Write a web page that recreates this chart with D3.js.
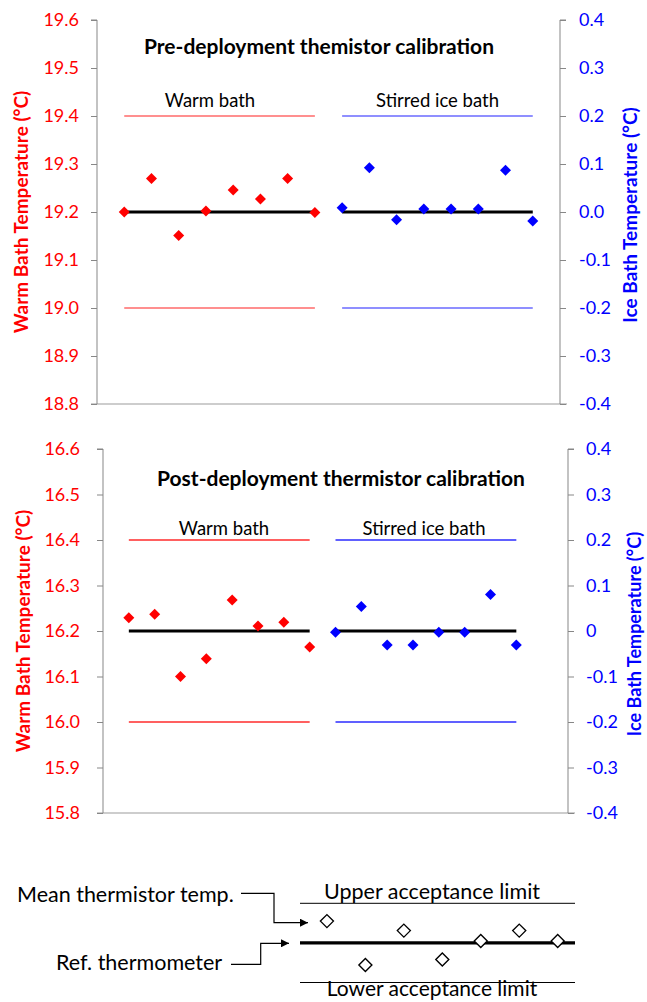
<!DOCTYPE html>
<html>
<head>
<meta charset="utf-8">
<script src="https://cdn.jsdelivr.net/npm/d3@7"></script>
<style>
  html, body { margin: 0; padding: 0; background: #fff; }
  svg { display: block; font-family: Lato, "Open Sans", sans-serif; }
</style>
</head>
<body>
<svg id="chart" width="647" height="1002"></svg>
<script>
// ---------------- DATA ----------------
const warmCategories = [1, 2, 3, 4, 5, 6, 7, 8];
const iceCategories = [9, 10, 11, 12, 13, 14, 15, 16];

const preWarmValues = [19.200, 19.270, 19.151, 19.202, 19.246, 19.227, 19.270, 19.199];
const preIceValues = [0.009, 0.092, -0.016, 0.006, 0.006, 0.006, 0.087, -0.019];
const postWarmValues = [16.229, 16.237, 16.100, 16.139, 16.268, 16.211, 16.219, 16.165];
const postIceValues = [-0.003, 0.054, -0.031, -0.031, -0.003, -0.003, 0.080, -0.031];

const preWarmRef = 19.2;
const preWarmLimits = [19.0, 19.4];
const postWarmRef = 16.2;
const postWarmLimits = [16.0, 16.4];
const iceRef = 0;
const iceLimits = [-0.2, 0.2];

const preWarmTicks = [18.8, 18.9, 19.0, 19.1, 19.2, 19.3, 19.4, 19.5, 19.6];
const postWarmTicks = [15.8, 15.9, 16.0, 16.1, 16.2, 16.3, 16.4, 16.5, 16.6];
const iceTicks = [-0.4, -0.3, -0.2, -0.1, 0, 0.1, 0.2, 0.3, 0.4];
const preIceTickLabels = ["-0.4", "-0.3", "-0.2", "-0.1", "0.0", "0.1", "0.2", "0.3", "0.4"];
const postIceTickLabels = ["-0.4", "-0.3", "-0.2", "-0.1", "0", "0.1", "0.2", "0.3", "0.4"];

const titles = ["Pre-deployment themistor calibration", "Post-deployment thermistor calibration"];
const seriesLabels = ["Warm bath", "Stirred ice bath"];
const leftAxisTitles = ["Warm Bath Temperature  (°C)", "Warm Bath Temperature (°C)"];
const rightAxisTitle = "Ice Bath Temperature (°C)";

// schematic legend
const legendIndex = [1, 2, 3, 4, 5, 6, 7];
const legendValues = [0.55, -0.56, 0.31, -0.42, 0.05, 0.31, 0.05];
const legendLabels = ["Mean thermistor temp.", "Ref. thermometer", "Upper acceptance limit", "Lower acceptance limit"];

// ---------------- DRAW ----------------
const svg = d3.select("#chart");
const RED = "#ff0000", BLUE = "#0000ff", AXIS = "#878787";

function diamond(g, cx, cy, half, fill, stroke) {
  const p = d3.path();
  p.moveTo(cx, cy - half); p.lineTo(cx + half, cy); p.lineTo(cx, cy + half); p.lineTo(cx - half, cy); p.closePath();
  g.append("path").attr("d", p.toString()).attr("fill", fill).attr("stroke", stroke || "none").attr("stroke-width", 1.4);
}

function panel(cfg) {
  const g = svg.append("g");
  const x = d3.scaleLinear().domain([0, cfg.slots]).range([cfg.left, cfg.right]);
  const yW = d3.scaleLinear().domain([cfg.warmTicks[0], cfg.warmTicks[cfg.warmTicks.length - 1]]).range([cfg.bottom, cfg.top]);
  const yI = d3.scaleLinear().domain([iceTicks[0], iceTicks[iceTicks.length - 1]]).range([cfg.bottom, cfg.top]);

  // baseline
  g.append("line").attr("x1", cfg.left - 6).attr("x2", cfg.right + 7)
    .attr("y1", cfg.bottom).attr("y2", cfg.bottom)
    .attr("stroke", "#bdbdbd").attr("stroke-width", 1.6);

  // left axis
  const la = g.append("g").attr("transform", `translate(${cfg.left},0)`)
    .call(d3.axisLeft(yW).tickValues(cfg.warmTicks).tickFormat(d3.format(".1f")).tickSize(6).tickPadding(cfg.leftPad));
  la.select(".domain").attr("stroke", AXIS).attr("d", `M-6,${cfg.top}H0V${cfg.bottom}`);
  la.selectAll(".tick line").attr("stroke", AXIS);
  la.selectAll(".tick text").attr("fill", RED).style("font-size", "18px").style("font-family", "Lato");

  // right axis
  const ra = g.append("g").attr("transform", `translate(${cfg.right},0)`)
    .call(d3.axisRight(yI).tickValues(iceTicks).tickFormat((d, i) => cfg.iceLabels[i]).tickSize(6).tickPadding(cfg.rightPad));
  ra.select(".domain").attr("stroke", AXIS).attr("d", `M6,${cfg.top}H0V${cfg.bottom}`);
  ra.selectAll(".tick line").attr("stroke", AXIS);
  ra.selectAll(".tick text").attr("fill", BLUE).style("font-size", "18px").style("font-family", "Lato");

  // limit lines
  cfg.warmLimits.forEach(v => {
    g.append("line").attr("x1", x(warmCategories[0])).attr("x2", x(warmCategories[7]))
      .attr("y1", yW(v)).attr("y2", yW(v)).attr("stroke", cfg.limRed).attr("stroke-width", cfg.limW);
  });
  iceLimits.forEach(v => {
    g.append("line").attr("x1", x(iceCategories[0])).attr("x2", x(iceCategories[7]))
      .attr("y1", yI(v)).attr("y2", yI(v)).attr("stroke", cfg.limBlue).attr("stroke-width", cfg.limW);
  });

  // reference lines
  g.append("line").attr("x1", x(warmCategories[0])).attr("x2", x(warmCategories[7]))
    .attr("y1", yW(cfg.warmRef)).attr("y2", yW(cfg.warmRef)).attr("stroke", "#000").attr("stroke-width", 3);
  g.append("line").attr("x1", x(iceCategories[0])).attr("x2", x(iceCategories[7]))
    .attr("y1", yI(iceRef)).attr("y2", yI(iceRef)).attr("stroke", "#000").attr("stroke-width", 3);

  // points
  cfg.warmValues.forEach((v, i) => diamond(g, x(warmCategories[i]), yW(v), 5.5, RED));
  cfg.iceValues.forEach((v, i) => diamond(g, x(iceCategories[i]), yI(v), 5.5, BLUE));

  // series labels
  g.append("text").attr("x", cfg.warmLabelX).attr("y", yW(cfg.warmLimits[1]) - cfg.labelGap)
    .attr("text-anchor", "middle").style("font-size", "18.5px").attr("fill", "#000").text(seriesLabels[0]);
  g.append("text").attr("x", cfg.iceLabelX).attr("y", yW(cfg.warmLimits[1]) - cfg.labelGap)
    .attr("text-anchor", "middle").style("font-size", "18.5px").attr("fill", "#000").text(seriesLabels[1]);

  // title
  g.append("text").attr("x", cfg.titleX).attr("y", cfg.titleY).attr("text-anchor", "middle")
    .style("font-size", "21px").style("font-weight", "bold").attr("fill", "#000").text(cfg.title);

  // axis titles
  const cy = (cfg.top + cfg.bottom) / 2;
  g.append("text").attr("transform", `translate(${cfg.leftTitleX},${cy}) rotate(-90)`)
    .attr("text-anchor", "middle").attr("dy", "0.35em")
    .style("font-size", "19px").style("font-weight", "bold").attr("fill", RED).text(cfg.leftTitle);
  g.append("text").attr("transform", `translate(${cfg.rightTitleX},${cy + 3}) rotate(-90)`)
    .attr("text-anchor", "middle").attr("dy", "0.35em")
    .style("font-size", cfg.rightTitleSize).style("font-weight", "bold").attr("fill", BLUE).text(rightAxisTitle);
}

panel({
  left: 97, right: 560, top: 20, bottom: 404, slots: 17,
  warmTicks: preWarmTicks, iceLabels: preIceTickLabels,
  warmValues: preWarmValues, iceValues: preIceValues,
  warmRef: preWarmRef, warmLimits: preWarmLimits,
  leftPad: 12, rightPad: 13,
  limRed: "#ff2020", limBlue: "#2020ff", limW: 1.2,
  warmLabelX: 210, iceLabelX: 437.5, labelGap: 9,
  title: titles[0], titleX: 319, titleY: 54,
  leftTitle: leftAxisTitles[0], leftTitleX: 21, rightTitleX: 630, rightTitleSize: "19px"
});

panel({
  left: 103, right: 568, top: 449, bottom: 813, slots: 18,
  warmTicks: postWarmTicks, iceLabels: postIceTickLabels,
  warmValues: postWarmValues, iceValues: postIceValues,
  warmRef: postWarmRef, warmLimits: postWarmLimits,
  leftPad: 17, rightPad: 12,
  limRed: "#ff6060", limBlue: "#6060ff", limW: 1.8,
  warmLabelX: 224, iceLabelX: 424, labelGap: 5,
  title: titles[1], titleX: 341, titleY: 486,
  leftTitle: leftAxisTitles[1], leftTitleX: 23, rightTitleX: 635, rightTitleSize: "18px"
});

// ---------------- SCHEMATIC LEGEND ----------------
const lg = svg.append("g");
const lx = d3.scaleLinear().domain([0.3, 7.45]).range([300, 575]);
const ly = d3.scaleLinear().domain([-1, 1]).range([982.5, 903.3]);

svg.append("defs").append("marker").attr("id", "arrow")
  .attr("viewBox", "0 0 10 10").attr("refX", 10).attr("refY", 5)
  .attr("markerWidth", 8).attr("markerHeight", 8).attr("markerUnits", "userSpaceOnUse")
  .attr("orient", "auto")
  .append("path").attr("d", "M0,0L10,5L0,10z").attr("fill", "#000");

lg.append("line").attr("x1", lx(0.3)).attr("x2", lx(7.45)).attr("y1", ly(1)).attr("y2", ly(1)).attr("stroke", "#000").attr("stroke-width", 1);
lg.append("line").attr("x1", lx(0.3)).attr("x2", lx(7.45)).attr("y1", ly(-1)).attr("y2", ly(-1)).attr("stroke", "#000").attr("stroke-width", 1);
lg.append("line").attr("x1", lx(0.3)).attr("x2", lx(7.45)).attr("y1", ly(0)).attr("y2", ly(0)).attr("stroke", "#000").attr("stroke-width", 3.3);

legendValues.forEach((v, i) => diamond(lg, lx(legendIndex[i]), ly(v), 6.5, "#fff", "#000"));

lg.append("text").attr("x", 17).attr("y", 902).style("font-size", "21.5px").attr("fill", "#000").text(legendLabels[0]);
lg.append("text").attr("x", 56).attr("y", 970).style("font-size", "21.5px").attr("fill", "#000").text(legendLabels[1]);
lg.append("text").attr("x", 432).attr("y", 899).attr("text-anchor", "middle").style("font-size", "21.5px").attr("fill", "#000").text(legendLabels[2]);
lg.append("text").attr("x", 432).attr("y", 996).attr("text-anchor", "middle").style("font-size", "21px").attr("fill", "#000").text(legendLabels[3]);

// connectors
lg.append("path").attr("d", `M241,893.3H274V922.7H308`).attr("fill", "none").attr("stroke", "#000").attr("stroke-width", 1.2).attr("marker-end", "url(#arrow)");
lg.append("path").attr("d", `M231,964.3H260.7V943.3H289`).attr("fill", "none").attr("stroke", "#000").attr("stroke-width", 1.2).attr("marker-end", "url(#arrow)");
</script>
</body>
</html>
